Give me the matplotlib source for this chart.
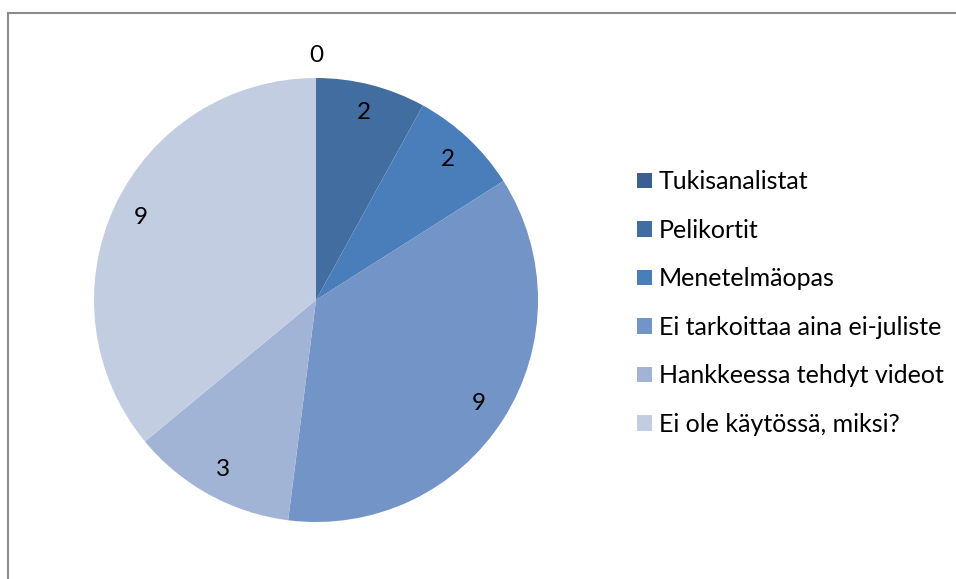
import matplotlib.pyplot as plt
from matplotlib.lines import Line2D
import numpy as np

labels = ["Tukisanalistat", "Pelikortit", "Menetelmäopas",
          "Ei tarkoittaa aina ei-juliste", "Hankkeessa tehdyt videot",
          "Ei ole käytössä, miksi?"]
values = [0, 2, 2, 9, 3, 9]
colors = ["#3A5F91", "#426DA1", "#4A7EBB", "#7394C6", "#A2B4D6", "#C3CDE2"]

plt.rcParams['font.family'] = ['Lato', 'DejaVu Sans']

W, H = 956, 579
fig = plt.figure(figsize=(W / 100, H / 100), dpi=100)

# pie axes: center (316, 300) px, radius 222 px
cx, cy, r = 316, 300, 222
ax = fig.add_axes([(cx - r) / W, (H - cy - r) / H, 2 * r / W, 2 * r / H])
wedges, _ = ax.pie(values, colors=colors, startangle=90, counterclock=False,
                   radius=1, wedgeprops=dict(linewidth=0))
ax.set_xlim(-1, 1)
ax.set_ylim(-1, 1)
ax.set_aspect('equal')
ax.axis('off')

for w, v in zip(wedges, values):
    mid = np.deg2rad((w.theta1 + w.theta2) / 2)
    d = 0.87 if v > 0 else 1.1
    ax.text(d * np.cos(mid), d * np.sin(mid), str(v), ha='center', va='center',
            fontsize=17.5, color='black')

leg = fig.legend(wedges, labels, loc='center left',
                 bbox_to_anchor=(614 / W, 1 - 303 / H), frameon=False,
                 fontsize=18, handlelength=0.6, handleheight=0.6,
                 handletextpad=0.3, labelspacing=1.02)

# chart border
fig.add_artist(Line2D([8 / W, 8 / W], [0, 1 - 13 / H], color='#8C8C8C', lw=1.5))
fig.add_artist(Line2D([8 / W, 1], [1 - 13 / H, 1 - 13 / H], color='#8C8C8C', lw=1.5))

fig.savefig("out.png", dpi=100)
